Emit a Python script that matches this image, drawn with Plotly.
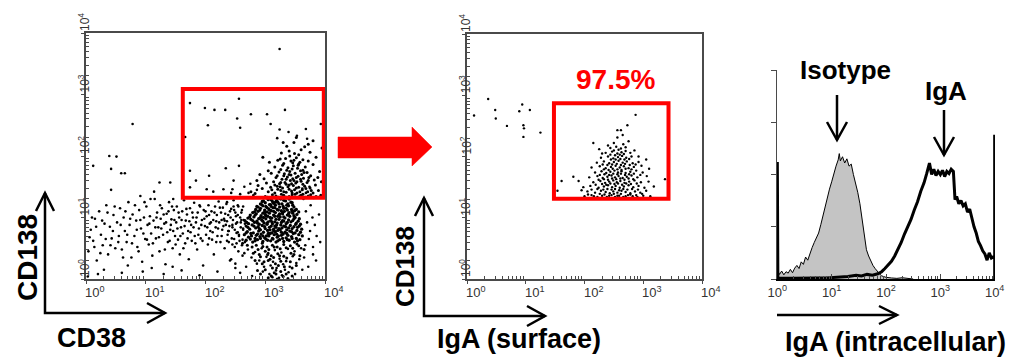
import plotly.graph_objects as go

# ---------------- DATA ----------------
# Flow-cytometry dot plots: positions in hundredths of a decade (log10 * 100)

# Left panel: CD38 (x) vs CD138 (y)
cd38_core = [
    (268,63),(279,60),(287,64),(296,61),(301,65),(309,62),(318,60),(324,64),(331,61),(340,63),(349,60),(358,64),
    (272,68),(283,66),(291,69),(299,67),(306,70),(312,66),(320,68),(327,71),(335,67),(344,69),(352,66),
    (265,72),(276,74),(285,71),(293,73),(302,70),(308,74),(315,72),(322,70),(330,73),(338,71),(347,74),(356,72),(362,70),
    (270,77),(280,75),(289,78),(297,76),(304,79),(311,75),(317,77),(325,80),(333,76),(341,78),(350,75),
    (274,81),(284,83),(292,80),(300,82),(307,84),(314,81),(321,79),(328,83),(336,80),(345,82),(354,84),(361,81),
    (268,86),(278,88),(288,85),(295,87),(303,89),(310,86),(318,84),(326,88),(334,85),(342,87),(351,89),
    (272,90),(282,92),(290,89),(298,91),(305,93),(312,90),(319,88),(327,92),(335,90),(343,93),(352,91),(359,89),
    (266,95),(276,97),(286,94),(294,96),(301,98),(309,95),(316,93),(323,97),(331,94),(339,96),(348,98),
    (271,99),(281,101),(289,98),(297,100),(304,102),(311,99),(318,97),(325,101),(333,99),(341,102),(350,100),(357,98),
    (275,104),(285,106),(293,103),(300,105),(307,107),(314,104),(321,102),(329,106),(337,104),(346,107),
    (279,108),(288,110),(296,107),(303,109),(310,111),(317,108),(324,106),(332,110),(340,108),(349,111),(356,109),
    (284,113),(292,115),(299,112),(306,114),(313,116),(320,113),(327,111),(335,115),(344,113),
    (288,117),(296,119),(303,116),(310,118),(317,120),(324,117),(331,115),(339,119),(348,117),
    (292,122),(300,124),(307,121),(314,123),(321,125),(328,122),(336,120),(345,124),
    (297,127),(305,129),(312,126),(319,128),(326,130),(334,127),(343,125),
    (275,65),(283,62),(292,66),(304,63),(313,65),(321,62),(329,66),(337,64),(345,66),(354,62),
    (268,75),(277,70),(287,73),(296,70),(305,74),(314,78),(319,73),(327,76),(336,74),(344,77),(353,79),(359,76),
    (271,84),(281,86),(290,82),(299,85),(308,80),(316,86),(323,82),(331,86),(339,83),(348,85),(357,86),
    (269,92),(279,95),(287,91),(296,94),(303,91),(311,93),(320,91),(329,95),(337,92),(346,95),(355,94),
    (274,101),(283,104),(292,100),(301,103),(308,100),(316,102),(323,104),(331,101),(339,106),(348,103),(353,105),
    (282,109),(291,112),(299,109),(307,112),(314,110),(322,112),(329,108),(337,112),(345,110),(352,113),
    (286,118),(294,121),(301,118),(309,121),(316,116),(323,122),(330,118),(338,122),(346,120),
    (295,126),(302,132),(310,129),(317,125),(324,131),(331,128),(340,130),
]
cd38_low = [
    (285,55),(295,58),(303,52),(312,55),(320,52),(331,56),(342,54),(353,57),(290,40),(300,45),(310,38),
    (321,41),(331,37),(343,42),(298,28),(308,32),(317,25),(326,29),(315,10),(305,2),(320,0),(330,4),(338,1),
    (300,15),(287,14),(345,18),
    (262,58),(270,55),(278,52),(288,48),(296,53),(306,48),(315,52),(325,49),(335,51),(346,50),(356,54),(365,48),
    (280,42),(292,36),(304,40),(314,35),(324,38),(336,34),(348,40),(358,38),
    (283,30),(295,25),(305,30),(312,18),(322,22),(332,20),(342,28),(352,22),
    (310,5),(318,8),(326,12),(335,8),(292,8),(345,5),
]
cd38_halo = [
    (232,95),(238,78),(241,110),(245,88),(248,65),(251,102),(254,120),(256,72),(259,92),(261,55),(262,132),
    (236,125),(243,140),(249,52),(255,45),(258,138),(260,108),(263,82),(247,118),(252,75),(239,60),
    (370,92),(375,78),(368,110),(379,100),(373,65),(383,88),(367,55),(376,120),(386,70),(364,130),(380,52),
    (271,48),(283,44),(294,50),(305,42),(316,47),(327,43),(338,49),(349,45),(360,50),(277,35),(290,30),
    (302,36),(313,28),(324,33),(335,29),(346,37),(357,32),(286,25),(298,20),(309,22),(319,18),(330,24),
    (341,20),(352,26),(296,12),(307,8),(318,14),(328,6),(339,11),(312,3),(323,2),(333,15),
    (272,140),(280,136),(286,145),(368,140),(374,150),(362,147),(265,150),(275,155),
    (243,32),(250,25),(262,38),(268,20),(365,35),(372,20),(380,40),(258,10),(278,5),(350,8),(362,15),
    (385,30),(392,60),(390,105),
]
cd38_spur = [
    (300,134),(312,137),(322,133),(331,136),(340,134),(350,138),(358,135),(367,133),(376,137),(385,134),(393,136),
    (305,142),(316,140),(326,144),(335,141),(344,143),(353,140),(362,145),(371,142),(380,140),(389,144),
    (295,147),(309,149),(320,151),(329,148),(338,150),(347,152),(356,149),(366,151),(375,148),(384,153),
    (302,156),(314,158),(324,155),(333,157),(342,160),(351,156),(360,159),(370,157),(382,161),(394,158),
    (298,163),(318,165),(328,162),(337,166),(346,163),(355,167),(364,164),(376,168),(388,165),
    (310,172),(323,174),(332,171),(341,175),(350,172),(359,176),(370,173),(391,175),
    (316,182),(329,185),(338,181),(347,184),(356,187),(367,182),(380,186),
    (321,193),(334,196),(343,192),(352,197),(363,194),(385,198),
    (327,205),(340,208),(349,204),(360,210),(375,206),
    (336,216),(348,222),(372,219),(395,213),
    (283,139),(288,152),(291,170),(276,142),(286,160),(305,176),(307,190),(296,198),
    (304,133),(318,135),(327,138),(336,133),(345,137),(355,133),(363,138),(372,135),(381,132),
    (311,145),(321,146),(331,142),(340,146),(349,145),(358,142),(368,147),(377,144),
    (316,153),(326,157),(335,154),(344,155),(353,158),(363,154),(372,160),
    (320,168),(331,168),(343,169),(352,165),(361,170),(373,165),
    (326,178),(336,177),(345,179),(354,180),(363,177),
    (331,188),(346,189),(358,190),(372,192),(341,200),(356,202),(366,215),(330,222),(352,230),(380,225),
    (330,134),(345,140),(360,136),(325,150),(340,153),(352,148),(335,162),(348,160),(359,162),(340,170),
    (365,173),(355,185),(325,195),(348,193),
]
cd38_sparse = [
    (174,286),(256,293),(199,278),(215,275),(233,275),(253,261),(276,268),(303,268),(333,275),(204,250),
    (258,246),(309,252),(166,231),(324,243),(368,244),(393,252),(339,239),(353,233),(370,228),(320,229),
    (174,176),(206,168),(234,180),(256,184),(184,160),(174,149),(247,160),(202,146),(230,146),(245,146),
    (213,142),(324,374),
    (39,200),(51,199),(12,184),(42,179),(59,172),(65,172),(42,145),(91,135),(114,142),(123,157),(141,157),
    (146,130),(78,252),
]
cd38_tail = [
    (4,45),(8,80),(12,62),(15,98),(18,30),(22,110),(25,72),(28,55),(31,90),(34,120),(37,40),(40,85),(43,66),
    (46,104),(49,50),(3,4),(20,8),
    (52,92),(55,70),(57,115),(60,48),(63,100),(65,78),(68,60),(71,125),(73,88),(76,35),(78,105),(81,70),
    (84,95),(86,52),(89,112),(92,82),(94,28),(97,100),(99,65),
    (101,118),(103,88),(105,56),(107,102),(109,74),(111,38),(113,95),(115,130),(117,66),(119,108),(121,84),
    (123,45),(125,98),(127,115),(129,72),(131,90),(133,24),(135,106),(137,60),(139,125),(141,80),(143,97),
    (145,50),(147,112),(149,70),
    (151,92),(152,118),(154,64),(156,100),(157,40),(159,84),(161,110),(162,74),(164,128),(166,58),(167,95),
    (169,105),(171,78),(172,32),(174,115),(176,88),(177,62),(179,100),(181,124),(182,70),(184,92),(186,48),
    (187,108),(189,82),(191,118),(192,66),(194,96),(196,22),(197,112),(199,86),
    (201,72),(202,102),(204,56),(205,120),(207,90),(208,78),(210,110),(211,64),(213,96),(214,40),(216,118),
    (217,84),(219,104),(220,70),(222,126),(223,92),(225,60),(226,108),(228,80),(229,116),(231,98),(232,50),
    (234,88),(235,122),(237,72),(238,104),(240,86),(241,30),(243,114),(244,66),(246,96),(247,128),(249,80),
    (250,108),(252,58),(253,92),(255,118),(256,70),(258,100),(259,84),(261,112),(262,64),(264,96),(265,42),
    (30,15),(60,10),(95,12),(130,8),(160,14),(190,6),(220,12),(250,18),(145,20),(110,18),(70,22),
    (6,68),(10,100),(14,52),(17,85),(24,42),(27,95),(33,65),(36,108),(41,55),(45,78),(48,118),
    (54,60),(58,88),(62,35),(66,110),(69,72),(74,98),(77,58),(82,120),(85,80),(88,45),(91,96),(96,74),(98,125),
    (102,64),(106,90),(108,130),(112,58),(116,84),(118,100),(122,68),(124,120),(126,82),(130,105),(132,48),
    (134,92),(136,76),(138,110),(140,62),(142,88),(144,118),(146,78),(148,96),(150,56),
    (153,82),(155,108),(158,70),(160,96),(163,50),(165,86),(168,114),(170,66),(173,94),(175,76),(178,108),
    (180,84),(183,58),(185,100),(188,72),(190,120),(193,88),(195,62),(198,98),(200,110),
    (203,84),(206,66),(206,104),(209,92),(212,76),(215,108),(218,60),(218,94),(221,82),(224,116),(227,70),
    (227,96),(230,86),(233,106),(236,62),(236,94),(239,78),(242,100),(245,84),(245,56),(248,112),(251,90),
    (254,76),(254,104),(257,62),(260,96),(263,80),(263,118),(266,90),(266,60),
]
cd38_gate = (162, 398, 132, 309)   # x0, x1, y0, y1 (hundredths of a decade)

# Middle panel: IgA surface (x) vs CD138 (y)
iga_sparse = [
    (36,294),(12,267),(48,276),(49,262),(68,250),(89,274),(94,285),(107,276),(96,251),(97,246),(96,232),(125,239),
    (287,268),(273,251),(262,243),(256,243),(265,235),(256,231),(215,222),
    (161,160),(181,167),(154,144),(337,163),(309,159),
]
iga_cluster = [
    (200,135),(212,137),(222,134),(230,136),(238,134),(246,137),(252,134),(259,136),(266,134),(274,137),(282,135),
    (290,134),(300,136),(312,135),
    (205,143),(218,141),(228,144),(236,142),(243,140),(249,143),(256,141),(263,144),(270,142),(278,140),(286,143),
    (295,141),(305,144),
    (198,150),(210,152),(224,149),(233,151),(240,153),(247,150),(253,152),(260,149),(267,151),(275,153),(283,150),
    (292,152),(302,149),(318,151),
    (215,158),(227,160),(235,157),(242,159),(249,161),(255,158),(261,160),(268,157),(276,159),(285,161),(296,158),
    (208,166),(222,168),(231,165),(239,167),(246,169),(252,166),(258,168),(265,165),(272,167),(280,169),(290,166),
    (306,168),
    (218,174),(229,176),(237,173),(244,175),(251,177),(257,174),(263,176),(270,173),(278,175),(288,177),(299,174),
    (212,182),(226,184),(236,181),(245,183),(253,185),(260,182),(267,184),(275,181),(284,183),(297,185),
    (221,190),(233,192),(242,189),(250,191),(258,193),(265,190),(272,192),(282,189),(292,191),
    (228,198),(240,200),(249,197),(257,199),(264,201),(271,198),(280,200),
    (236,206),(247,208),(256,205),(263,207),(270,209),(278,206),
    (244,214),(254,216),(262,213),(270,215),
    (190,160),(195,145),(310,180),(305,195),(230,205),(285,210),(250,222),(240,218),(275,225),(225,212),(292,200),
    (206,138),(216,135),(226,139),(234,138),(242,136),(250,139),(256,136),(262,139),(270,135),(278,138),(288,137),
    (298,139),
    (212,146),(222,147),(232,146),(239,147),(246,146),(252,147),(259,145),(266,147),(273,146),(281,147),(291,146),
    (219,154),(230,155),(237,154),(244,156),(251,155),(257,156),(264,154),(271,156),(279,155),(289,156),
    (224,162),(233,163),(240,162),(247,164),(254,163),(261,164),(268,162),(275,164),(283,163),
    (226,170),(234,171),(242,170),(249,172),(256,171),(262,172),(269,170),(276,171),(284,172),(295,170),
    (233,179),(241,178),(248,180),(256,179),(263,178),(270,180),(280,179),
    (231,187),(239,186),(247,187),(255,188),(262,186),(269,188),(277,186),(287,187),
    (245,195),(253,195),(261,196),(268,195),(276,196),
    (244,203),(252,202),(260,203),(267,204),
    (250,210),(258,211),(266,220),
]
iga_gate = (148, 343, 131, 287)
iga_percent = "97.5%"

# Right panel: histograms of intracellular IgA (x in decades, y in % of max scale)
iso_x = [0.00,0.04,0.08,0.12,0.16,0.20,0.24,0.28,0.32,0.36,0.40,0.44,0.48,0.52,0.56,0.60,0.64,0.68,0.72,0.76,
         0.80,0.84,0.88,0.92,0.96,1.00,1.04,1.08,1.12,1.14,1.16,1.20,1.24,1.28,1.32,1.36,1.40,1.44,1.48,1.52,
         1.56,1.60,1.64,1.68,1.72,1.76,1.80,1.84,1.88,1.92,1.96,2.00,2.10,2.20,2.30,2.40,2.50]
iso_y = [4.5,2.2,3.8,2.0,3.5,2.8,4.6,3.0,5.2,6.5,5.0,8.2,7.0,10.5,9.0,12.5,15.0,17.5,19.5,22.0,
         26.0,30.5,35.0,39.5,43.0,46.5,51.0,54.0,57.0,60.0,56.5,58.5,55.5,57.5,54.0,55.0,50.0,46.0,41.5,36.0,
         29.0,22.0,14.0,11.0,8.5,6.5,5.0,3.5,2.5,1.5,1.0,0.8,0.5,0.3,0.6,0.2,0.0]
igA_x = [0.0,0.0,0.01,0.01,0.3,0.5,0.7,0.9,1.1,1.3,1.45,1.55,1.65,1.75,1.85,1.92,1.98,2.04,2.10,2.16,2.22,2.28,
         2.34,2.40,2.46,2.52,2.58,2.64,2.70,2.75,2.80,2.84,2.88,2.92,2.96,3.00,3.04,3.08,3.12,3.16,3.20,3.24,
         3.27,3.30,3.34,3.38,3.42,3.46,3.50,3.54,3.58,3.62,3.66,3.70,3.74,3.78,3.82,3.86,3.90,3.94,3.97,
         4.0,4.0,4.0]
igA_y = [0,56,56,0.3,0.4,0.3,0.5,0.5,0.8,1.2,1.8,1.5,2.2,1.8,2.5,3.5,5.0,6.8,8.5,11.0,14.0,17.5,
         21.5,25.0,28.5,33.0,37.0,42.0,46.0,50.5,55.5,50.0,52.5,49.5,51.5,50.0,52.0,49.0,51.5,50.5,52.5,51.5,
         38.0,39.5,36.0,37.5,35.0,36.0,32.0,33.5,29.0,25.0,22.0,18.0,16.0,13.5,12.0,9.0,12.5,10.0,10.5,
         10.5,69,0]

decade_labels = ["10<sup>0</sup>", "10<sup>1</sup>", "10<sup>2</sup>", "10<sup>3</sup>", "10<sup>4</sup>"]
decades = [1, 10, 100, 1000, 10000]

# ---------------- FIGURE ----------------
W, H = 1016, 359
FONT = "Liberation Sans, Arial, sans-serif"
AX = "#4a4a4a"
TICKFONT = dict(family=FONT, size=13, color="#333")
minor_vals = [m * d for d in decades[:-1] for m in range(2, 10)]


def px(x):
    return x / W


def py(y):
    return 1 - y / H


def unzip(groups):
    xs, ys = [], []
    for g in groups:
        for a, b in g:
            xs.append(10 ** (a / 100))
            ys.append(10 ** (b / 100))
    return xs, ys


fig = go.Figure()


def dots(groups, xa, ya, size):
    xs, ys = unzip(groups)
    fig.add_trace(go.Scatter(x=xs, y=ys, mode="markers", xaxis=xa, yaxis=ya, hoverinfo="skip",
                             marker=dict(size=size, color="black", line=dict(width=0)), showlegend=False))


dots([cd38_tail, cd38_halo, cd38_sparse], "x", "y", 2.6)
dots([cd38_low, cd38_spur], "x", "y", 3.0)
dots([cd38_core], "x", "y", 3.3)
dots([iga_sparse, iga_cluster], "x2", "y2", 2.4)

fig.add_trace(go.Scatter(x=[10 ** v for v in iso_x], y=iso_y, mode="lines", xaxis="x3", yaxis="y3",
                         fill="tozeroy", fillcolor="#c4c4c4", line=dict(color="black", width=1),
                         showlegend=False, hoverinfo="skip"))
fig.add_trace(go.Scatter(x=[10 ** v for v in igA_x], y=igA_y, mode="lines", xaxis="x3", yaxis="y3",
                         line=dict(color="black", width=3), showlegend=False, hoverinfo="skip"))

minor = dict(tickmode="array", tickvals=minor_vals, ticks="inside", ticklen=3, tickcolor=AX, tickwidth=1,
             showgrid=False)


def log_axis(domain, anchor):
    return dict(type="log", range=[0, 4], domain=domain, anchor=anchor, showgrid=False, zeroline=False,
                automargin=False, showline=True, linecolor=AX, linewidth=2, mirror=True,
                tickmode="array", tickvals=decades, ticks="outside", ticklen=3, tickcolor=AX, minor=minor,
                showticklabels=False)


fig.update_layout(
    width=W, height=H, margin=dict(l=0, r=0, t=0, b=0, pad=0), autosize=False,
    paper_bgcolor="white", plot_bgcolor="white", showlegend=False,
    xaxis=log_axis([px(86), px(325)], "y"),
    yaxis=log_axis([py(279), py(33)], "x"),
    xaxis2=log_axis([px(467), px(702)], "y2"),
    yaxis2=log_axis([py(279), py(34)], "x2"),
    xaxis3=dict(type="log", range=[-0.006, 4.006], domain=[px(777), px(995)], anchor="y3", showgrid=False,
                zeroline=False, automargin=False, showline=True, linecolor="black", linewidth=2, mirror=False,
                tickmode="array", tickvals=decades, ticktext=decade_labels,
                ticks="inside", ticklen=5, tickcolor=AX, minor=minor, tickfont=TICKFONT),
    yaxis3=dict(range=[0, 100], domain=[py(279), py(70)], anchor="x3", showgrid=False, zeroline=False,
                automargin=False, showline=True, linecolor=AX, linewidth=1.5, ticks="outside", ticklen=5,
                tickcolor=AX, tickvals=[0, 25, 50, 75, 100], showticklabels=False),
)

# dot-plot decade labels: x labels start at the tick; rotated y labels start at the tick and read upward
for ax in ("", "2"):
    for i, lab in enumerate(decade_labels):
        fig.add_annotation(text=lab, xref=f"x{ax} domain", x=0, yref=f"y{ax}", y=i, textangle=-90,
                           showarrow=False, xshift=-12, yshift=11, font=dict(family=FONT, size=12, color="#333"))
        fig.add_annotation(text=lab, xref=f"x{ax}", x=i, yref=f"y{ax} domain", y=0, xanchor="left",
                           yanchor="top", showarrow=False, xshift=-3, yshift=-3, font=TICKFONT)

# gates (shape coordinates on log axes are data values)
for (x0, x1, y0, y1), xa, ya in ((cd38_gate, "x", "y"), (iga_gate, "x2", "y2")):
    fig.add_shape(type="rect", xref=xa, yref=ya, x0=10 ** (x0 / 100), x1=10 ** (x1 / 100),
                  y0=10 ** (y0 / 100), y1=10 ** (y1 / 100),
                  line=dict(color="#ff0000", width=4), fillcolor="rgba(0,0,0,0)")

fig.add_annotation(text=f"<b>{iga_percent}</b>", xref="x2", yref="y2", x=2.52, y=3.25, showarrow=False,
                   font=dict(family=FONT, size=28, color="#ff0000"))


def path(points, close=False):
    s = "M" + " L".join(f"{px(x):.5f},{py(y):.5f}" for x, y in points)
    return s + (" Z" if close else "")


def add_path(points, width=2.5, color="black", fill=None, close=False):
    fig.add_shape(type="path", xref="paper", yref="paper", path=path(points, close),
                  line=dict(color=color if fill is None else fill, width=width),
                  fillcolor=fill if fill else "rgba(0,0,0,0)")


def head(tip, back, half):
    (tx, ty), (bx, by) = tip, back
    dx, dy = bx - tx, by - ty
    L = (dx * dx + dy * dy) ** 0.5
    ux, uy = dx / L, dy / L
    return [(tx + ux * 18 - uy * half, ty + uy * 18 + ux * half), (tx, ty),
            (tx + ux * 18 + uy * half, ty + uy * 18 - ux * half)]


# axis arrows (L shaped) for dot plots
for corner, top, right in (((45, 313), (45, 193), (165, 313)), ((424, 316), (424, 198), (545, 316))):
    add_path([top, corner, right])
    add_path(head(top, corner, 9))
    add_path(head(right, corner, 10))

# histogram x arrow
add_path([(777, 315), (897, 315)])
add_path(head((897, 315), (777, 315), 9))
# label arrows
add_path([(837, 95), (837, 140)])
add_path(head((837, 140), (837, 95), 10))
add_path([(944, 110), (944, 155)])
add_path(head((944, 155), (944, 110), 10))

# big red arrow between panels
add_path([(338, 137), (412, 137), (412, 127), (432, 147), (412, 166), (412, 158), (338, 158)],
         width=0.5, fill="#ff0000", close=True)


def label(text, x, y, size=27, angle=0):
    fig.add_annotation(text=f"<b>{text}</b>", xref="paper", yref="paper", x=px(x), y=py(y),
                       showarrow=False, textangle=angle, xanchor="center", yanchor="middle",
                       font=dict(family=FONT, size=size, color="black"))


label("CD138", 27, 258, size=28, angle=-90)
label("CD38", 91, 338)
label("CD138", 405, 267, size=26, angle=-90)
label("IgA (surface)", 519, 339)
label("IgA (intracellular)", 895, 342)
label("Isotype", 845, 70, size=26)
label("IgA", 946, 91, size=26)

fig.write_html("out.html", config={"displayModeBar": False, "staticPlot": True}, post_script=(
    "document.body.style.margin='0';document.body.style.padding='0';"
    "document.documentElement.style.overflow='hidden';document.body.style.overflow='hidden';"))
